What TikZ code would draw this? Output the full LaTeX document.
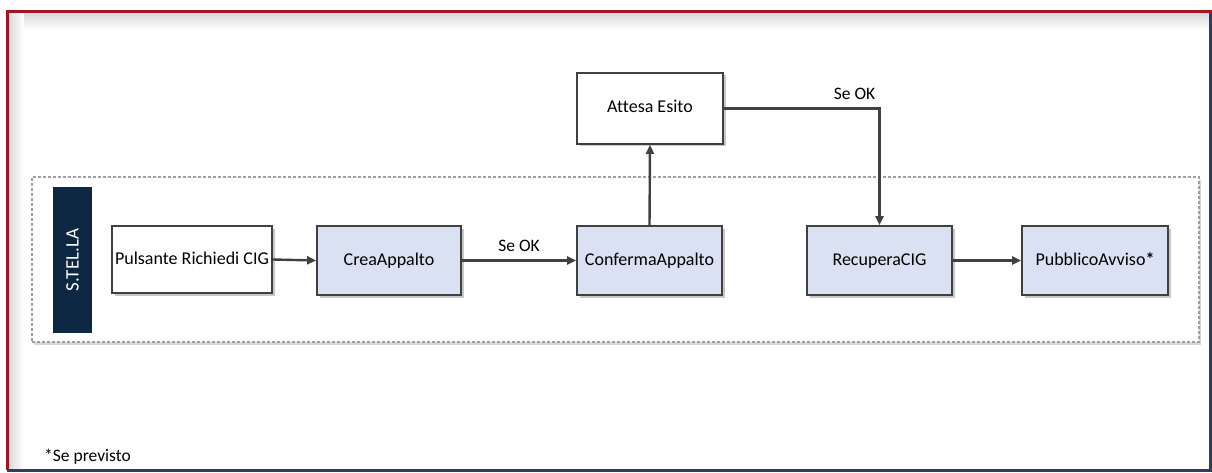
\documentclass[tikz,border=0pt]{standalone}
\usepackage{fontspec}
\setmainfont{Carlito}[Ligatures={NoCommon}]
\usetikzlibrary{shadows,arrows.meta,calc}
\definecolor{framered}{RGB}{165,20,35}
\definecolor{frameblue}{RGB}{45,62,100}
\definecolor{boxblue}{RGB}{218,225,242}
\definecolor{navy}{RGB}{14,40,68}
\definecolor{linegray}{RGB}{64,64,64}
\tikzset{
  procbox/.style={draw=linegray, line width=1.8pt, inner sep=0pt, font=\fontsize{18}{21}\selectfont,
    text height=12.5pt, text depth=3.5pt,
    drop shadow={shadow xshift=2.5pt, shadow yshift=-2.5pt, fill=gray!55, opacity=0.8}},
  whitebox/.style={procbox, fill=white},
  bluebox/.style={procbox, fill=boxblue},
  flow/.style={draw=linegray, line width=2.4pt, -{Triangle[length=9pt,width=8pt]}},
  lbl/.style={font=\fontsize{17.5}{20}\selectfont, inner sep=0pt}
}
\begin{document}
\begin{tikzpicture}[x=1pt,y=-1pt]
\useasboundingbox (0,0) rectangle (1212,473);
\fill[white] (0,0) rectangle (1212,473);
% inner shadow of the frame
\shade[top color=gray!30, bottom color=white] (8,13) rectangle (1210,30);
\shade[left color=gray!30, right color=white] (8,13) rectangle (24,469);
% outer frame
\draw[frameblue, line width=3pt] (1210.5,12) -- (1210.5,470.5) -- (7,470.5);
\draw[framered, line width=3pt] (7,470) -- (7,12) -- (1212,12);
% dashed container
\node[draw=gray!75, dash pattern=on 3pt off 2pt, line width=1.1pt, fill=white,
  minimum width=1167pt, minimum height=165pt, inner sep=0pt,
  drop shadow={shadow xshift=2pt, shadow yshift=-3pt, fill=gray!45, opacity=0.7}] (lane) at (615.5,259.5) {};
% lane label
\node[fill=navy, minimum width=39pt, minimum height=146pt, inner sep=0pt] (stella) at (72.5,260) {};
\node[rotate=90, text=white, font=\fontsize{19}{22}\selectfont, inner sep=0pt] (stellatxt) at (stella.center) {S.TEL.LA};
% boxes
\node[whitebox, minimum width=160pt, minimum height=67pt] (pulsante) at (192,259.5) {Pulsante Richiedi CIG};
\node[bluebox, minimum width=144pt, minimum height=69pt] (crea) at (389,260.5) {CreaAppalto};
\node[bluebox, minimum width=145pt, minimum height=69pt] (conferma) at (649.5,260.5) {ConfermaAppalto};
\node[bluebox, minimum width=145pt, minimum height=69pt] (recupera) at (879.5,260.5) {RecuperaCIG};
\node[bluebox, minimum width=146pt, minimum height=69pt] (pubblico) at (1095,260.5) {PubblicoAvviso\textbf{*}};
\node[whitebox, minimum width=146pt, minimum height=71pt] (attesa) at (650,108.5) {Attesa Esito};
% connectors
\draw[flow] (pulsante.east) -- (crea.west);
\draw[flow] (crea.east) -- (conferma.west) node[lbl, midway, above=8pt] (ok1) {Se OK};
\draw[flow] (conferma.north) -- (attesa.south);
\draw[flow] (attesa.east) -| (recupera.north) node[lbl, pos=0.42, above=8pt] (ok2) {Se OK};
\draw[flow] (recupera.east) -- (pubblico.west);
% footnote
\node[lbl, anchor=west] (note) at (44,457) {*Se previsto};
\end{tikzpicture}
\end{document}
